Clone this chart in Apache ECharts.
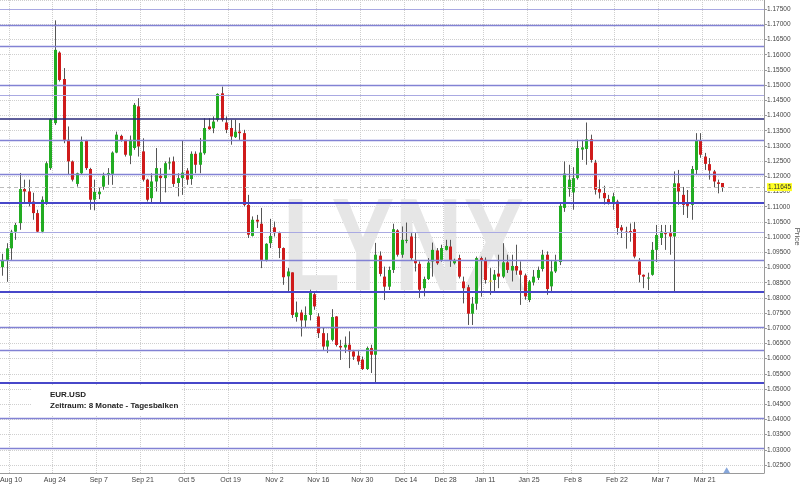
<!DOCTYPE html>
<html>
<head>
<meta charset="utf-8">
<title>EUR.USD</title>
<script src="https://cdn.jsdelivr.net/npm/echarts@6.0.0/dist/echarts.min.js"></script>
<style>
  html, body { margin: 0; padding: 0; background: #fff; }
  #chart { width: 800px; height: 486px; }
</style>
</head>
<body>
<div id="chart"></div>
<script>
// trading days from Aug 6 2015, weekends and holidays skipped, padded to the right edge
const firstDay = '2015-08-06'
const dayCount = 174
const holidays = ['2015-12-25', '2016-01-01']
const tickDays = ['2015-08-10', '2015-08-24', '2015-09-07', '2015-09-21', '2015-10-05', '2015-10-19',
  '2015-11-02', '2015-11-16', '2015-11-30', '2015-12-14', '2015-12-28', '2016-01-11', '2016-01-25',
  '2016-02-08', '2016-02-22', '2016-03-07', '2016-03-21']
const monthNames = ['Jan', 'Feb', 'Mar', 'Apr', 'May', 'Jun', 'Jul', 'Aug', 'Sep', 'Oct', 'Nov', 'Dec']

// daily bars
const opens = [
  1.0901, 1.0925, 1.0963, 1.1018, 1.1046, 1.1158, 1.1150, 1.1117, 1.1079, 1.1018,
  1.1110, 1.1227, 1.1375, 1.1607, 1.1520, 1.1320, 1.1249, 1.1175, 1.1210, 1.1318,
  1.1224, 1.1123, 1.1141, 1.1166, 1.1204, 1.1208, 1.1278, 1.1333, 1.1320, 1.1268,
  1.1293, 1.1430, 1.1282, 1.1189, 1.1128, 1.1183, 1.1202, 1.1194, 1.1243, 1.1249,
  1.1178, 1.1194, 1.1219, 1.1191, 1.1274, 1.1238, 1.1276, 1.1364, 1.1358, 1.1386,
  1.1473, 1.1377, 1.1359, 1.1329, 1.1347, 1.1342, 1.1106, 1.1004, 1.1057, 1.1044,
  1.0925, 1.0980, 1.1032, 1.1013, 1.0964, 1.0871, 1.0884, 1.0737, 1.0752, 1.0726,
  1.0744, 1.0812, 1.0739, 1.0684, 1.0640, 1.0662, 1.0739, 1.0642, 1.0637, 1.0646,
  1.0624, 1.0610, 1.0597, 1.0566, 1.0635, 1.0613, 1.0939, 1.0870, 1.0837, 1.0892,
  1.1022, 1.0942, 1.0988, 1.1002, 1.0925, 1.0912, 1.0832, 1.0862, 1.0920, 1.0956,
  1.0925, 1.0958, 1.0969, 1.0914, 1.0931, 1.0854, 1.0835, 1.0748, 1.0781, 1.0931,
  1.0925, 1.0857, 1.0859, 1.0880, 1.0870, 1.0917, 1.0890, 1.0905, 1.0890, 1.0874,
  1.0793, 1.0851, 1.0866, 1.0895, 1.0942, 1.0838, 1.0887, 1.0918, 1.1096, 1.1158,
  1.1147, 1.1194, 1.1288, 1.1290, 1.1322, 1.1245, 1.1158, 1.1145, 1.1125, 1.1110,
  1.1117, 1.1032, 1.1018, 1.1020, 1.1026, 1.0920, 1.0876, 1.0864, 1.0876, 1.0958,
  1.0997, 1.1013, 1.1013, 1.1002, 1.1177, 1.1139, 1.1112, 1.1106, 1.1221, 1.1318,
  1.1265, 1.1240, 1.1216, 1.1180, 1.1178
]
const closes = [
  1.0925, 1.0963, 1.1018, 1.1040, 1.1158, 1.1150, 1.1112, 1.1079, 1.1018, 1.1123,
  1.1243, 1.1388, 1.1616, 1.1517, 1.1320, 1.1249, 1.1189, 1.1210, 1.1314, 1.1227,
  1.1123, 1.1149, 1.1149, 1.1202, 1.1211, 1.1278, 1.1337, 1.1320, 1.1271, 1.1320,
  1.1435, 1.1298, 1.1189, 1.1123, 1.1183, 1.1227, 1.1194, 1.1243, 1.1246, 1.1175,
  1.1194, 1.1212, 1.1189, 1.1274, 1.1238, 1.1278, 1.1359, 1.1355, 1.1380, 1.1471,
  1.1386, 1.1353, 1.1331, 1.1347, 1.1342, 1.1106, 1.1008, 1.1057, 1.1051, 1.0925,
  1.0978, 1.1004, 1.1013, 1.0964, 1.0868, 1.0887, 1.0744, 1.0752, 1.0726, 1.0744,
  1.0816, 1.0772, 1.0684, 1.0640, 1.0660, 1.0737, 1.0645, 1.0637, 1.0646, 1.0624,
  1.0607, 1.0591, 1.0566, 1.0635, 1.0613, 1.0942, 1.0879, 1.0837, 1.0892, 1.1026,
  1.0942, 1.0991, 1.0991, 1.0931, 1.0914, 1.0827, 1.0862, 1.0916, 1.0958, 1.0914,
  1.0964, 1.0971, 1.0925, 1.0925, 1.0870, 1.0832, 1.0748, 1.0781, 1.0931, 1.0922,
  1.0859, 1.0857, 1.0877, 1.0870, 1.0917, 1.0892, 1.0905, 1.0890, 1.0876, 1.0805,
  1.0854, 1.0870, 1.0892, 1.0942, 1.0829, 1.0887, 1.0920, 1.1103, 1.1209, 1.1189,
  1.1194, 1.1293, 1.1295, 1.1322, 1.1254, 1.1156, 1.1147, 1.1128, 1.1110, 1.1134,
  1.1030, 1.1022, 1.1014, 1.1016, 1.0936, 1.0876, 1.0870, 1.0867, 1.0958, 1.1007,
  1.1018, 1.1010, 1.1002, 1.1177, 1.1150, 1.1106, 1.1103, 1.1224, 1.1318, 1.1271,
  1.1241, 1.1219, 1.1183, 1.1175, 1.11645
]
const lows = [
  1.0873, 1.0853, 1.0925, 1.0991, 1.1024, 1.1113, 1.1101, 1.1057, 1.1015, 1.1013,
  1.1106, 1.1221, 1.1369, 1.1512, 1.1309, 1.1205, 1.1183, 1.1166, 1.1205, 1.1221,
  1.1090, 1.1088, 1.1125, 1.1156, 1.1172, 1.1172, 1.1276, 1.1314, 1.1265, 1.1240,
  1.1287, 1.1265, 1.1183, 1.1117, 1.1110, 1.1150, 1.1112, 1.1147, 1.1222, 1.1165,
  1.1134, 1.1139, 1.1172, 1.1172, 1.1210, 1.1210, 1.1271, 1.1353, 1.1342, 1.1380,
  1.1380, 1.1342, 1.1304, 1.1326, 1.1320, 1.1101, 1.0997, 1.1002, 1.1030, 1.0898,
  1.0920, 1.0964, 1.1002, 1.0931, 1.0843, 1.0822, 1.0734, 1.0722, 1.0673, 1.0701,
  1.0726, 1.0761, 1.0668, 1.0629, 1.0619, 1.0657, 1.0640, 1.0596, 1.0619, 1.0569,
  1.0596, 1.0580, 1.0563, 1.0563, 1.0553, 1.0520, 1.0871, 1.0793, 1.0826, 1.0882,
  1.0936, 1.0932, 1.0980, 1.0925, 1.0887, 1.0800, 1.0805, 1.0859, 1.0870, 1.0909,
  1.0919, 1.0956, 1.0902, 1.0910, 1.0864, 1.0782, 1.0711, 1.0711, 1.0761, 1.0804,
  1.0847, 1.0810, 1.0820, 1.0832, 1.0865, 1.0882, 1.0854, 1.0876, 1.0777, 1.0794,
  1.0786, 1.0841, 1.0859, 1.0887, 1.0810, 1.0816, 1.0882, 1.0908, 1.1083, 1.1133,
  1.1090, 1.1189, 1.1254, 1.1238, 1.1245, 1.1140, 1.1127, 1.1107, 1.1107, 1.1090,
  1.1008, 1.0997, 1.0962, 1.0985, 1.0930, 1.0851, 1.0832, 1.0826, 1.0873, 1.0918,
  1.0974, 1.0958, 1.0942, 1.0819, 1.1106, 1.1073, 1.1063, 1.1057, 1.1205, 1.1261,
  1.1221, 1.1189, 1.1162, 1.1144, 1.1149
]
const highs = [
  1.0945, 1.0980, 1.1024, 1.1047, 1.1211, 1.1189, 1.1189, 1.1146, 1.1090, 1.1134,
  1.1249, 1.1391, 1.1713, 1.1611, 1.1556, 1.1364, 1.1252, 1.1212, 1.1331, 1.1320,
  1.1228, 1.1189, 1.1164, 1.1212, 1.1227, 1.1282, 1.1347, 1.1337, 1.1320, 1.1334,
  1.1441, 1.1457, 1.1325, 1.1192, 1.1210, 1.1293, 1.1227, 1.1249, 1.1262, 1.1265,
  1.1210, 1.1318, 1.1227, 1.1282, 1.1282, 1.1326, 1.1391, 1.1391, 1.1397, 1.1473,
  1.1495, 1.1397, 1.1386, 1.1386, 1.1375, 1.1353, 1.1139, 1.1068, 1.1073, 1.1096,
  1.0980, 1.1060, 1.1051, 1.1018, 1.0966, 1.0898, 1.0884, 1.0788, 1.0761, 1.0772,
  1.0827, 1.0816, 1.0750, 1.0701, 1.0684, 1.0763, 1.0740, 1.0662, 1.0673, 1.0690,
  1.0629, 1.0629, 1.0607, 1.0640, 1.0646, 1.0981, 1.0953, 1.0903, 1.0903, 1.1044,
  1.1026, 1.1035, 1.1048, 1.1013, 1.1013, 1.0920, 1.0870, 1.0931, 1.0982, 1.0964,
  1.0975, 1.0991, 1.0991, 1.0929, 1.0942, 1.0870, 1.0843, 1.0803, 1.0936, 1.0936,
  1.0933, 1.0898, 1.0892, 1.0942, 1.0980, 1.0942, 1.0942, 1.0975, 1.0920, 1.0880,
  1.0859, 1.0892, 1.0903, 1.0958, 1.0953, 1.0925, 1.0942, 1.1113, 1.1249, 1.1238,
  1.1230, 1.1320, 1.1320, 1.1377, 1.1337, 1.1254, 1.1189, 1.1169, 1.1139, 1.1146,
  1.1123, 1.1040, 1.1034, 1.1045, 1.1050, 1.0931, 1.0877, 1.0883, 1.0984, 1.1040,
  1.1040, 1.1040, 1.1040, 1.1216, 1.1221, 1.1165, 1.1155, 1.1234, 1.1342, 1.1342,
  1.1277, 1.1260, 1.1221, 1.1189, 1.1178
]

// horizontal support / resistance lines
const keyLevels = [1.1388]
const strongLevels = [1.1113, 1.0820, 1.0522]
const mediumLevels = [1.1698, 1.1629, 1.1500, 1.1319, 1.1207, 1.0923, 1.0703, 1.0629, 1.0405, 1.0306]
const lightLevels = [1.1750, 1.1467, 1.1016]
const lastPrice = 1.11645
const eventDays = ['2016-03-28']

const yMin = 1.0224
const yMax = 1.178

const days = []
const cursor = new Date(firstDay + 'T00:00:00Z')
while (days.length < dayCount) {
  const s = cursor.toISOString().slice(0, 10)
  const wd = cursor.getUTCDay()
  if (wd !== 0 && wd !== 6 && !holidays.includes(s)) days.push(s)
  cursor.setUTCDate(cursor.getUTCDate() + 1)
}

const isTick = (i, v) => tickDays.includes(v)
const fmtDay = s => monthNames[+s.slice(5, 7) - 1] + ' ' + (+s.slice(8, 10))

const bars = opens.map((o, i) => [i, o, closes[i], lows[i], highs[i]])

const renderCandle = (params, api) => {
  const i = api.value(0)
  const open = api.value(1)
  const close = api.value(2)
  const pOpen = api.coord([i, open])
  const pClose = api.coord([i, close])
  const pLow = api.coord([i, api.value(3)])
  const pHigh = api.coord([i, api.value(4)])
  const cx = Math.round(pOpen[0])
  const w = Math.max(2, Math.round(api.size([1, 0])[0] * 0.7))
  const top = Math.min(pOpen[1], pClose[1])
  const h = Math.max(1, Math.abs(pOpen[1] - pClose[1]))
  const fill = close > open ? '#22ac22' : close < open ? '#cf1b1b' : '#e6d400'
  return {
    type: 'group',
    children: [
      {
        type: 'line',
        shape: { x1: cx + 0.5, y1: pHigh[1], x2: cx + 0.5, y2: pLow[1] },
        style: { stroke: '#555', lineWidth: 1 }
      },
      {
        type: 'rect',
        shape: { x: cx - Math.floor(w / 2), y: top, width: w, height: h },
        style: { fill }
      }
    ]
  }
}

const levelLine = (v, color, width) => ({ yAxis: v, lineStyle: { color, width, type: 'solid' } })

const markLines = [
  ...lightLevels.map(v => levelLine(v, '#a9a9e2', 1)),
  ...mediumLevels.map(v => levelLine(v, '#8282d4', 1.3)),
  ...strongLevels.map(v => levelLine(v, '#4747c9', 2.2)),
  ...keyLevels.map(v => levelLine(v, '#28287a', 1.5)),
  {
    yAxis: lastPrice,
    lineStyle: { color: '#bdbdbd', width: 1, type: [4, 3] },
    label: {
      show: true,
      position: 'end',
      distance: 3,
      formatter: p => Number(p.value).toFixed(5),
      fontSize: 6.5,
      fontFamily: 'Liberation Sans',
      color: '#333',
      backgroundColor: '#ffff22',
      padding: [1, 1, 0, 1]
    }
  }
]

const chart = echarts.init(document.getElementById('chart'))

const option = {
  animation: false,
  backgroundColor: '#fff',
  grid: { left: 0, right: 36, top: 0, bottom: 13, outerBoundsMode: 'none', containLabel: false },
  xAxis: {
    type: 'category',
    data: days,
    boundaryGap: true,
    axisLine: { lineStyle: { color: '#9a9a9a' } },
    axisTick: { interval: isTick, length: 3, lineStyle: { color: '#9a9a9a' } },
    axisLabel: {
      interval: isTick,
      formatter: fmtDay,
      fontSize: 7,
      fontFamily: 'Liberation Sans',
      color: '#444',
      margin: 4
    },
    splitLine: { show: true, interval: isTick, lineStyle: { color: '#cfcfcf', type: 'dotted' } }
  },
  yAxis: {
    type: 'value',
    position: 'right',
    min: yMin,
    max: yMax,
    splitNumber: 31,
    name: 'Price',
    nameLocation: 'middle',
    nameRotate: -90,
    nameGap: 29,
    nameMoveOverlap: false,
    nameTextStyle: { fontSize: 8, color: '#555', fontFamily: 'Liberation Sans' },
    axisLine: { show: true, lineStyle: { color: '#9a9a9a' } },
    axisTick: { show: true, length: 3, lineStyle: { color: '#9a9a9a' } },
    axisLabel: {
      fontSize: 6.5,
      fontFamily: 'Liberation Sans',
      color: '#444',
      margin: 3,
      showMinLabel: false,
      showMaxLabel: false,
      formatter: v => v.toFixed(5)
    },
    splitLine: { show: true, lineStyle: { color: '#cfcfcf', type: 'dotted' } }
  },
  graphic: [
    {
      type: 'text',
      x: 404,
      y: 254,
      scaleX: 0.72,
      z: 1,
      silent: true,
      style: {
        text: 'LYNX',
        font: 'bold 131px "Liberation Sans"',
        fill: '#e6e6e6',
        align: 'center',
        verticalAlign: 'middle'
      }
    },
    {
      type: 'rect',
      z: 1,
      silent: true,
      shape: { x: 32, y: 386, width: 150, height: 30 },
      style: { fill: '#fff' }
    },
    {
      type: 'text',
      x: 50,
      y: 395,
      z: 3,
      style: { text: 'EUR.USD', font: 'bold 8px "Liberation Sans"', fill: '#222', verticalAlign: 'middle' }
    },
    {
      type: 'text',
      x: 50,
      y: 406,
      z: 3,
      style: { text: 'Zeitraum: 8 Monate - Tagesbalken', font: 'bold 8px "Liberation Sans"', fill: '#222', verticalAlign: 'middle' }
    }
  ],
  series: [
    {
      name: 'EUR.USD',
      type: 'custom',
      renderItem: renderCandle,
      data: bars,
      encode: { x: 0, y: [1, 2, 3, 4] },
      clip: true,
      markLine: {
        silent: true,
        symbol: 'none',
        precision: 5,
        label: { show: false },
        data: markLines
      },
      markPoint: {
        silent: true,
        symbol: 'triangle',
        symbolSize: [7, 6],
        itemStyle: { color: '#86a6da' },
        label: { show: false },
        data: eventDays.map(d => ({ coord: [d, yMin + 0.0009] }))
      }
    }
  ]
}

chart.setOption(option)
</script>
</body>
</html>
